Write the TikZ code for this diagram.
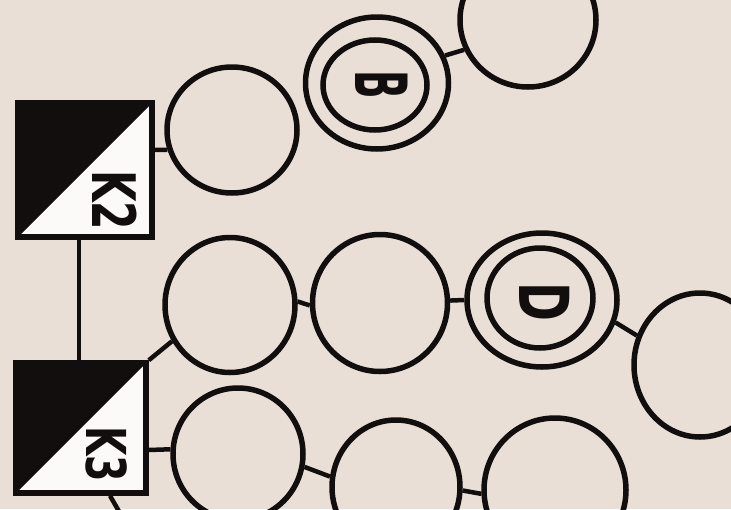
\documentclass[tikz,border=0pt]{standalone}
\usepackage{fontspec}
\setmainfont{DejaVu Sans}
\usetikzlibrary{shapes.geometric}
\definecolor{paper}{RGB}{233,223,214}
\definecolor{ink}{RGB}{18,14,14}
\tikzset{
  ring/.style={draw=ink, ellipse, line width=5.5pt, inner sep=0pt},
  link/.style={draw=ink, line width=4.5pt},
  sqbox/.style={draw=ink, rectangle, line width=5.5pt, inner sep=0pt, fill=white!85!paper},
  lbl/.style={text=ink, inner sep=0pt, rotate=-90}
}
\begin{document}
\begin{tikzpicture}[x=1pt,y=-1pt]
\useasboundingbox (0,0) rectangle (731,509);
\clip (0,0) rectangle (731,509);
\fill[paper] (0,0) rectangle (731,509);

% squares
\node[sqbox, minimum width=134pt, minimum height=134pt] (k2) at (85,170) {};
\fill[ink] (k2.north west) -- (k2.north east) -- (k2.south west) -- cycle;
\node[sqbox, minimum width=130pt, minimum height=130pt] (k3) at (81,428) {};
\fill[ink] (k3.north west) -- (k3.north east) -- (k3.south west) -- cycle;
\node[sqbox, fill=none, minimum width=134pt, minimum height=134pt] at (85,170) {};
\node[sqbox, fill=none, minimum width=130pt, minimum height=130pt] at (81,428) {};

\node[lbl, font=\bfseries\fontsize{60}{60}\selectfont] (k2t) at (115,200) {\scalebox{0.68}[1]{K2}};
\node[lbl, font=\bfseries\fontsize{55}{55}\selectfont] (k3t) at (107,454) {\scalebox{0.69}[1]{K3}};

% circles, row 1
\node[ring, minimum width=130pt, minimum height=126pt] (c1) at (232,130) {};
\node[ring, minimum width=143pt, minimum height=132pt] (bout) at (377,83) {};
\node[ring, minimum width=104pt, minimum height=90pt] (bin) at (375,85) {};
\node[lbl, font=\bfseries\fontsize{72}{72}\selectfont] (bt) at (382,85) {\scalebox{0.52}[1]{B}};
\node[ring, minimum width=136pt, minimum height=134pt] (tr) at (528,20) {};

% row 2
\node[ring, minimum width=130pt, minimum height=135pt] (c2a) at (230,305) {};
\node[ring, minimum width=135pt, minimum height=137pt] (c2b) at (380,303) {};
\node[ring, minimum width=150pt, minimum height=134pt] (dout) at (542,300) {};
\node[ring, minimum width=106pt, minimum height=100pt] (din) at (540,298) {};
\node[lbl, font=\bfseries\fontsize{69}{69}\selectfont] (dt) at (545,302) {\scalebox{0.68}[1]{D}};
\node[ring, minimum width=132pt, minimum height=144pt] (rc) at (700,365) {};

% row 3
\node[ring, minimum width=130pt, minimum height=132pt] (c3a) at (238,454) {};
\node[ring, minimum width=128pt, minimum height=134pt] (c3b) at (396,487) {};
\node[ring, minimum width=142pt, minimum height=144pt] (c3c) at (555,490) {};

\coordinate (k3tail) at (124,520);

% connectors
\draw[link] ([xshift=-6pt]k2.south) -- ([xshift=-2pt]k3.north);
\draw[link] ([yshift=20pt]k2.east) -- (c1.197);
\draw[link] (bout.22) -- (tr.205);
\draw[link] (k3.north east) -- (c2a.212);
\draw[link] (c2a.3) -- (c2b.182);
\draw[link] (c2b.2) -- (dout.180);
\draw[link] (dout.343) -- (rc.155);
\draw[link] ([yshift=-22pt]k3.east) -- (c3a.176);
\draw[link] (c3a.349) -- (c3b.171);
\draw[link] (c3b.357) -- (c3c.183);
\draw[link] ([xshift=29pt]k3.south) -- (k3tail);
\end{tikzpicture}
\end{document}
